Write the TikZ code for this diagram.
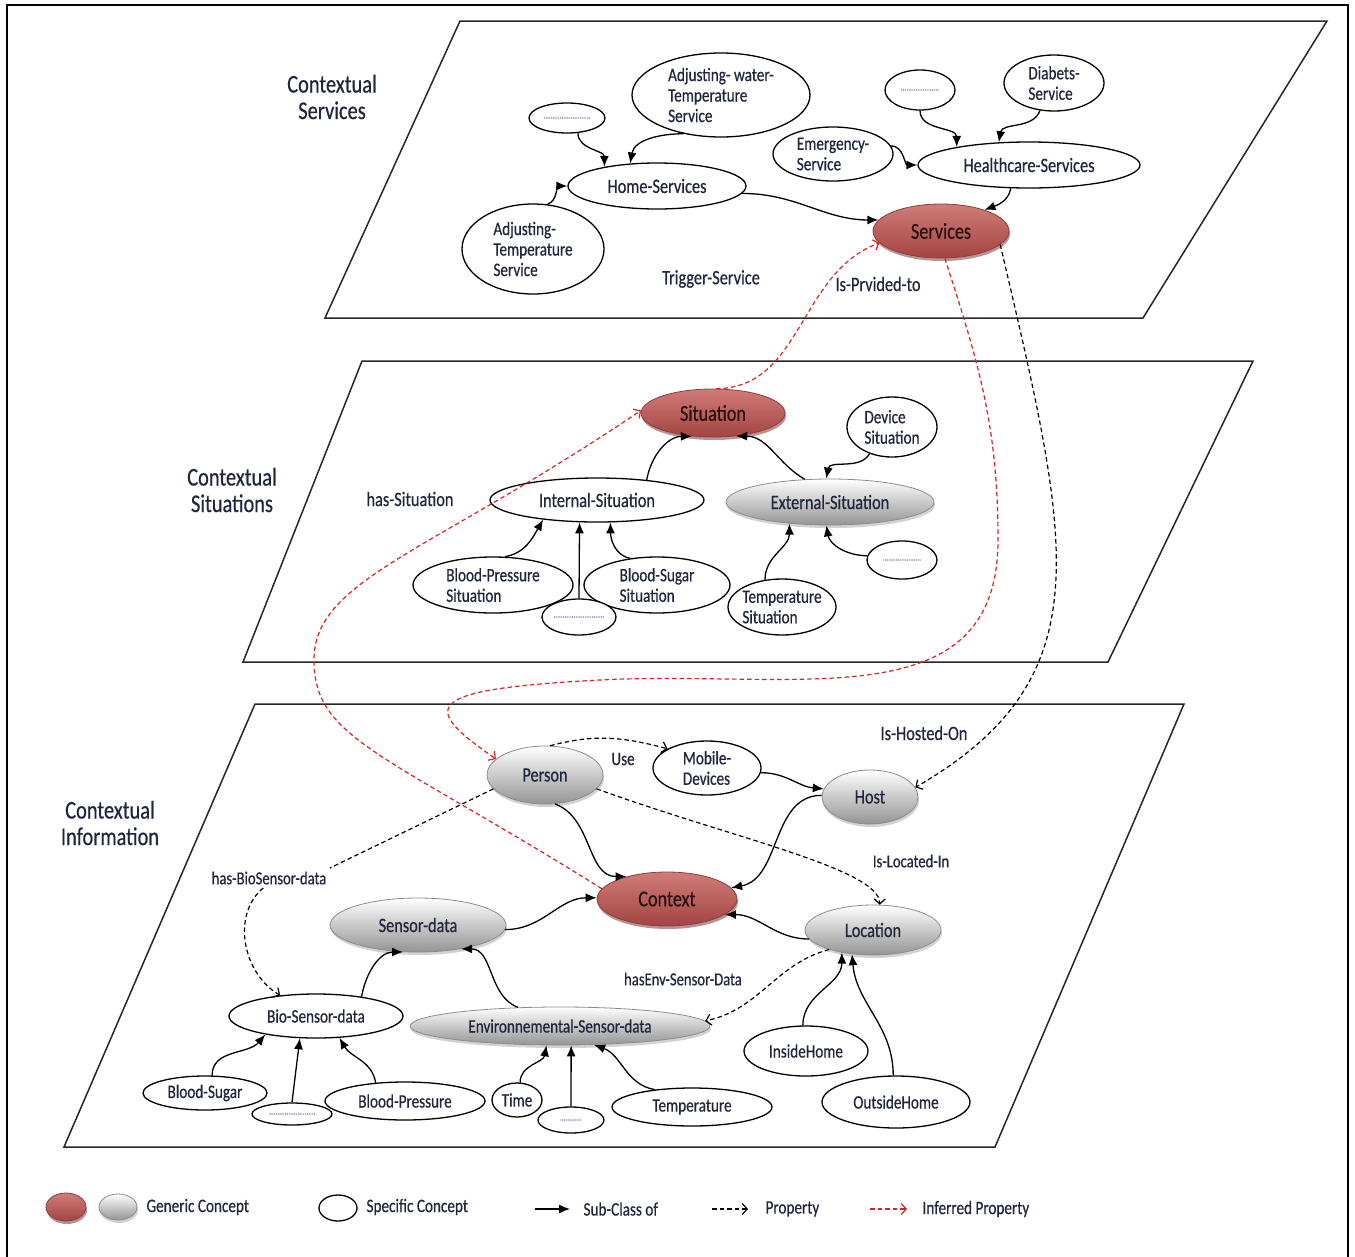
\documentclass[tikz,border=0pt]{standalone}
\usepackage{fontspec}
\setmainfont{Carlito}[FakeStretch=0.8, FakeBold=0.5]
\usetikzlibrary{shapes.geometric,arrows.meta,shadows}
\definecolor{textnavy}{RGB}{32,38,62}
\definecolor{corered}{RGB}{192,80,77}
\definecolor{inferred}{RGB}{215,35,35}
\definecolor{dotgray}{RGB}{120,130,175}
\newcommand\planefont{\fontsize{25.5}{26.5}\selectfont}
\newcommand\corefont{\fontsize{22.7}{23}\selectfont}
\newcommand\conceptfont{\fontsize{20.4}{20.5}\selectfont}
\newcommand\specfont{\fontsize{19}{20.5}\selectfont}
\newcommand\relfont{\fontsize{20.4}{21}\selectfont}
\newcommand\smallrelfont{\fontsize{18.3}{19}\selectfont}
\begin{document}
\begin{tikzpicture}[
    x=1pt, y=1pt, >=latex,
    planeedge/.style={draw=black!85, line width=1.5pt},
    layerlabel/.style={align=center, font=\planefont, text=textnavy},
    specific/.style={ellipse, draw, line width=1.3pt, fill=white, inner sep=0pt, font=\specfont, text=textnavy, align=left},
    generic/.style={ellipse, draw=black!45, line width=0.8pt, top color=white, bottom color=black!42, drop shadow={shadow xshift=1pt, shadow yshift=-3pt, fill=black!35}, inner sep=0pt, font=\conceptfont, text=textnavy},
    core/.style={ellipse, draw=corered!75!black, line width=0.8pt, top color=corered!75!white, bottom color=corered!85!black, drop shadow={shadow xshift=1pt, shadow yshift=-3pt, fill=corered!55!black}, inner sep=0pt, font=\corefont, text=black!80!corered},
    dotnode/.style={specific, font=\fontsize{9}{9}\selectfont, text=dotgray},
    rel/.style={font=\relfont, text=textnavy},
    subclass/.style={-{Latex[length=11pt,width=9pt]}, line width=1.3pt},
    property/.style={-{Straight Barb[length=5pt,width=11pt]}, dash pattern=on 4.5pt off 3pt, line width=1.2pt},
    inferredprop/.style={property, draw=inferred}
]
    \useasboundingbox (0,0) rectangle (1355,-1256);
    \draw[line width=2.5pt] (7,-1270) -- (7,-5) -- (1348,-5) -- (1348,-1270);

    % Planes
    \draw[planeedge] (460,-21) -- (1327,-21) -- (1143,-318) -- (325,-318) -- cycle;
    \draw[planeedge] (362,-361) -- (1253,-361) -- (1108,-662) -- (243,-662) -- cycle;
    \draw[planeedge] (255,-704) -- (1184,-704) -- (995,-1147) -- (64,-1147) -- cycle;

    % Contextual services
    \node[layerlabel] (servicesLayer) at (332,-97) {Contextual\\Services};
    \node[dotnode, minimum width=76, minimum height=30] (homeDots) at (567,-118) {..........................};
    \node[specific, minimum width=178, minimum height=84] (waterTemp) at (721,-95) {Adjusting- water-\\Temperature\\Service};
    \node[specific, font=\conceptfont, minimum width=178, minimum height=46] (homeServices) at (657,-186) {Home-Services};
    \node[specific, minimum width=142, minimum height=90] (adjTemp) at (533,-249) {Adjusting-\\Temperature\\Service};
    \node[specific, minimum width=120, minimum height=54] (emergency) at (833,-154) {Emergency-\\Service};
    \node[dotnode, minimum width=70, minimum height=40] (healthDots) at (920,-90) {.....................};
    \node[specific, minimum width=100, minimum height=56] (diabets) at (1054,-83) {Diabets-\\Service};
    \node[specific, font=\conceptfont, minimum width=222, minimum height=46] (healthServices) at (1029,-165) {Healthcare-Services};
    \node[core, minimum width=136, minimum height=54] (services) at (941,-231) {Services};
    \node[rel] (trigger) at (711,-279) {Trigger-Service};
    \node[rel] (provided) at (878,-284) {Is-Prvided-to};

    % Contextual situations
    \node[layerlabel] (situationsLayer) at (232,-490) {Contextual\\Situations};
    \node[core, minimum width=144, minimum height=48] (situation) at (713,-413) {Situation};
    \node[specific, minimum width=90, minimum height=60] (deviceSit) at (892,-427) {Device\\Situation};
    \node[specific, font=\conceptfont, minimum width=214, minimum height=44] (internalSit) at (597,-500) {Internal-Situation};
    \node[generic, minimum width=208, minimum height=46] (externalSit) at (830,-502) {External-Situation};
    \node[rel] (hasSituation) at (410,-499) {has-Situation};
    \node[specific, minimum width=160, minimum height=56] (bpSit) at (493,-585) {Blood-Pressure\\Situation};
    \node[specific, minimum width=146, minimum height=56] (bsSit) at (657,-585) {Blood-Sugar\\Situation};
    \node[dotnode, minimum width=74, minimum height=36] (internalDots) at (579,-617) {............................};
    \node[dotnode, minimum width=70, minimum height=38] (externalDots) at (902,-560) {.....................};
    \node[specific, minimum width=108, minimum height=56, inner xsep=-3pt] (tempSit) at (782,-607) {Temperature\\Situation};

    % Contextual information
    \node[layerlabel] (informationLayer) at (110,-823) {Contextual\\Information};
    \node[generic, minimum width=116, minimum height=58] (person) at (545,-775) {Person};
    \node[rel, font=\specfont] (use) at (623,-759) {Use};
    \node[specific, minimum width=108, minimum height=54] (mobile) at (707,-768) {Mobile-\\Devices};
    \node[generic, minimum width=96, minimum height=54] (host) at (870,-797) {Host};
    \node[rel] (hostedOn) at (924,-733) {Is-Hosted-On};
    \node[rel, font=\smallrelfont] (locatedIn) at (911,-861) {Is-Located-In};
    \node[rel, font=\smallrelfont] (hasBio) at (269,-878) {has-BioSensor-data};
    \node[core, minimum width=140, minimum height=54] (context) at (667,-899) {Context};
    \node[generic, minimum width=176, minimum height=54] (sensorData) at (418,-925) {Sensor-data};
    \node[generic, minimum width=136, minimum height=50] (location) at (873,-930) {Location};
    \node[rel, font=\smallrelfont] (hasEnv) at (683,-979) {hasEnv-Sensor-Data};
    \node[specific, minimum width=174, minimum height=44] (bioSensor) at (316,-1016) {Bio-Sensor-data};
    \node[generic, font=\specfont, minimum width=300, minimum height=38] (envSensor) at (560,-1026) {Environnemental-Sensor-data};
    \node[specific, minimum width=124, minimum height=50] (insideHome) at (806,-1051) {InsideHome};
    \node[specific, minimum width=148, minimum height=52] (outsideHome) at (896,-1102) {OutsideHome};
    \node[specific, minimum width=124, minimum height=34] (bloodSugar) at (205,-1093) {Blood-Sugar};
    \node[dotnode, minimum width=80, minimum height=22] (bioDots) at (292,-1114) {..........................};
    \node[specific, minimum width=160, minimum height=38] (bloodPressure) at (405,-1101) {Blood-Pressure};
    \node[specific, minimum width=50, minimum height=34] (time) at (517,-1100) {Time};
    \node[dotnode, minimum width=66, minimum height=26] (envDots) at (571,-1120) {............};
    \node[specific, minimum width=160, minimum height=38] (temperature) at (692,-1107) {Temperature};

    \coordinate (hasSitBend) at (314,-660);
    \coordinate (providedBend) at (998,-540);
    \coordinate (providedTurn) at (600,-680);

    % Sub-Class of
    \draw[subclass] (homeDots.-54) to[out=-90,in=90] (homeServices.160);
    \draw[subclass] (waterTemp.226) to[out=180,in=80] (homeServices.140);
    \draw[subclass] (adjTemp.72) to[out=20,in=180] (homeServices.180);
    \draw[subclass] (homeServices.-5) to[out=0,in=180] (services.170);
    \draw[subclass] (emergency.8) to[out=0,in=180] (healthServices.180);
    \draw[subclass] (healthDots.-90) to[out=-90,in=90] (healthServices.166);
    \draw[subclass] (diabets.243) to[out=-110,in=80] (healthServices.143);
    \draw[subclass] (healthServices.232) to[out=-100,in=20] (services.26);
    \draw[subclass] (internalSit.22) to[out=80,in=180] (situation.228);
    \draw[subclass] (externalSit.138) to[out=150,in=0] (situation.-45);
    \draw[subclass] (deviceSit.230) to[out=-120,in=80] (externalSit.99);
    \draw[subclass] (bpSit.67) to[out=10,in=-120] (internalSit.200);
    \draw[subclass] (internalDots.north) -- (internalSit.232);
    \draw[subclass] (bsSit.135) to[out=170,in=-90] (internalSit.-59);
    \draw[subclass] (tempSit.122) to[out=90,in=-90] (externalSit.208);
    \draw[subclass] (externalDots.173) to[out=180,in=-80] (externalSit.-99);
    \draw[subclass] (person.-71) to[out=-20,in=180] (context.151);
    \draw[subclass] (host.178) to[out=180,in=10] (context.10);
    \draw[subclass] (sensorData.-3) to[out=0,in=180] (context.179);
    \draw[subclass] (location.188) to[out=180,in=0] (context.-15);
    \draw[subclass] (mobile.-5) to[out=0,in=175] (host.170);
    \draw[subclass] (bioSensor.23) to[out=80,in=180] (sensorData.241);
    \draw[subclass] (envSensor.156) to[out=160,in=0] (sensorData.-29);
    \draw[subclass] (bloodSugar.68) to[out=90,in=-130] (bioSensor.200);
    \draw[subclass] (bioDots.north) -- (bioSensor.234);
    \draw[subclass] (bloodPressure.148) to[out=100,in=-60] (bioSensor.-43);
    \draw[subclass] (time.80) to[out=90,in=-100] (envSensor.235);
    \draw[subclass] (envDots.north) -- (envSensor.-60);
    \draw[subclass] (temperature.155) to[out=170,in=-20] (envSensor.-29);
    \draw[subclass] (insideHome.97) to[out=90,in=-90] (location.216);
    \draw[subclass] (outsideHome.96) to[out=90,in=-85] (location.229);

    % Properties
    \draw[property] (person.80) to[out=15,in=165] (mobile.154);
    \draw[property] (person.-15) to[out=-20,in=90,out looseness=1.2,in looseness=0.3] (location.75);
    \draw[property] (person.195) -- (hasBio.north east) (hasBio.-120) to[out=-140,in=150] (bioSensor.150);
    \draw[property] (location.204) to[out=195,in=12] (envSensor.2);
    \draw[property] (services.-13) .. controls +(70,-300) and +(190,110) .. (host.12);

    % Inferred properties
    \draw[inferredprop] (situation.83) to[out=0,in=200] (services.191);
    \draw[inferredprop] (context.171) to[out=148,in=-90,out looseness=1.8,in looseness=0.55] (hasSitBend)
        to[out=90,in=214,out looseness=0.5,in looseness=1.6] (situation.178);
    \draw[inferredprop] (services.-82) to[out=-72,in=90] (providedBend)
        to[out=-90,in=3,out looseness=1.1,in looseness=1.2] (providedTurn)
        to[out=183,in=145,out looseness=3.6,in looseness=1.75] (person.162);

    % Legend
    \node[core, minimum width=40, minimum height=28] (legendCore) at (66,-1207) {};
    \node[generic, minimum width=38, minimum height=26] (legendGeneric) at (118,-1207) {};
    \node[rel, font=\specfont, anchor=west] (legendGenericText) at (143,-1207) {Generic Concept};
    \node[specific, minimum width=38, minimum height=26] (legendSpecific) at (338,-1208) {};
    \node[rel, font=\specfont, anchor=west] (legendSpecificText) at (363,-1207) {Specific Concept};
    \coordinate (subFrom) at (535,-1209);
    \coordinate (subTo) at (570,-1209);
    \draw[subclass] (subFrom) -- (subTo);
    \node[rel, font=\specfont, anchor=west] (legendSubText) at (580,-1209) {Sub-Class of};
    \coordinate (propFrom) at (712,-1209);
    \coordinate (propTo) at (748,-1209);
    \draw[property] (propFrom) -- (propTo);
    \node[rel, font=\specfont, anchor=west] (legendPropText) at (762,-1209) {Property};
    \coordinate (infFrom) at (870,-1209);
    \coordinate (infTo) at (907,-1209);
    \draw[inferredprop] (infFrom) -- (infTo);
    \node[rel, font=\specfont, anchor=west] (legendInfText) at (919,-1209) {Inferred Property};
\end{tikzpicture}
\end{document}
